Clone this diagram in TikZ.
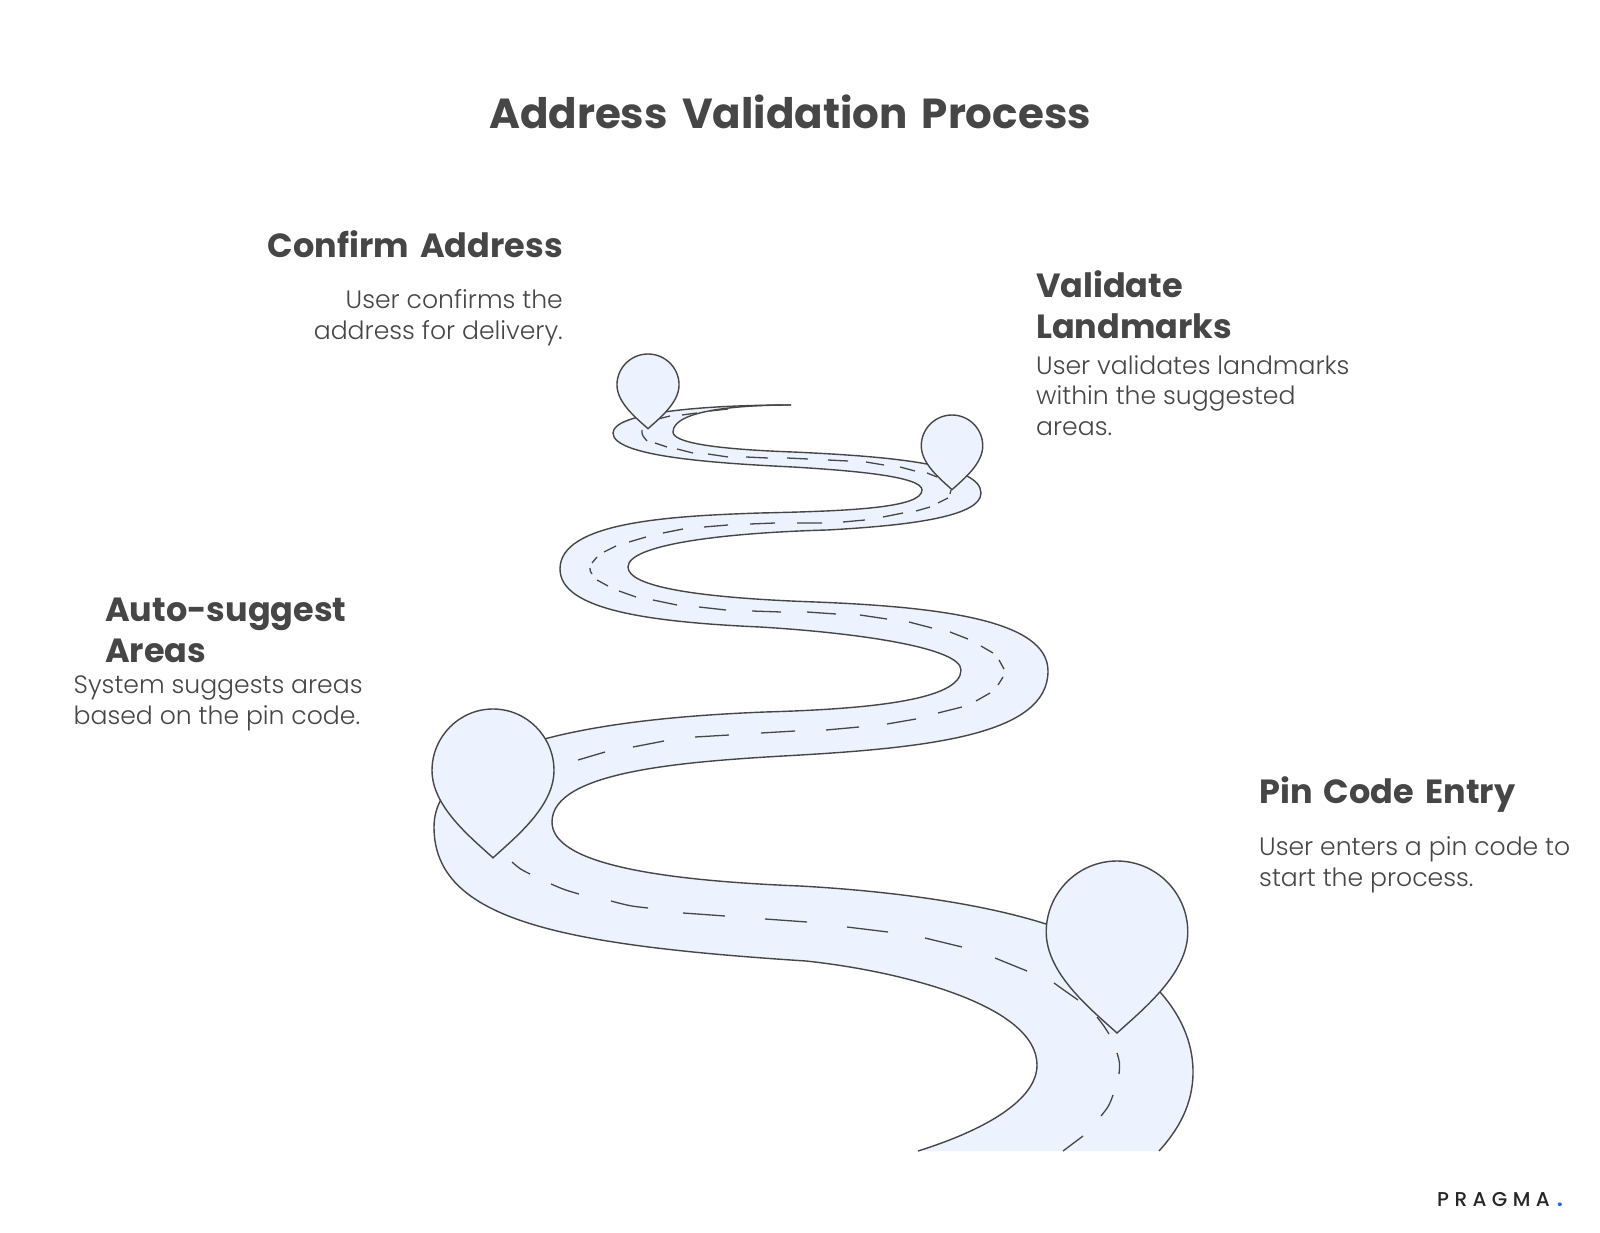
\documentclass[tikz,border=0pt]{standalone}
\usepackage{fontspec}
\setmainfont{Poppins}
\newfontfamily\hdfont[WordSpace=1.6]{Poppins}
\newfontfamily\ltfont{Poppins Light}
\newfontfamily\logofont[LetterSpace=27]{Poppins Medium}
\definecolor{ink}{HTML}{464646}
\definecolor{roadfill}{HTML}{ECF3FE}
\definecolor{logoblue}{HTML}{2563EB}
\newcommand{\edgeA}{(791,405)
 .. controls (700,405) and (613,413) .. (613,433)
 .. controls (613,456) and (710,463) .. (793,467)
 .. controls (860,471) and (922,477) .. (922,490)
 .. controls (922,508) and (850,511) .. (760,513)
 .. controls (670,516) and (560,522) .. (560,569)
 .. controls (560,610) and (650,622) .. (760,627)
 .. controls (860,633) and (961,648) .. (961,670)
 .. controls (961,700) and (870,709) .. (765,712)
 .. controls (640,717) and (434,735) .. (434,827)
 .. controls (434,920) and (560,945) .. (806,961)
 .. controls (900,971) and (1037,1005) .. (1037,1065)
 .. controls (1037,1100) and (985,1130) .. (918,1151)}
\newcommand{\edgeB}{(791,405)
 .. controls (740,405) and (673,410) .. (673,432)
 .. controls (673,442) and (710,449) .. (793,452)
 .. controls (880,456) and (981,463) .. (981,493)
 .. controls (981,518) and (900,526) .. (827,530)
 .. controls (720,533) and (628,545) .. (628,567)
 .. controls (628,587) and (700,598) .. (816,602)
 .. controls (940,607) and (1048,620) .. (1048,671)
 .. controls (1048,735) and (930,748) .. (783,756)
 .. controls (680,762) and (552,772) .. (552,822)
 .. controls (552,862) and (650,880) .. (800,886)
 .. controls (890,891) and (980,903) .. (1046,924)
 .. controls (1130,950) and (1193,1005) .. (1193,1072)
 .. controls (1193,1105) and (1178,1130) .. (1159,1151)}
\newcommand{\edgeBback}{(1159,1151)
 .. controls (1178,1130) and (1193,1105) .. (1193,1072)
 .. controls (1193,1005) and (1130,950) .. (1046,924)
 .. controls (980,903) and (890,891) .. (800,886)
 .. controls (650,880) and (552,862) .. (552,822)
 .. controls (552,772) and (680,762) .. (783,756)
 .. controls (930,748) and (1048,735) .. (1048,671)
 .. controls (1048,620) and (940,607) .. (816,602)
 .. controls (700,598) and (628,587) .. (628,567)
 .. controls (628,545) and (720,533) .. (827,530)
 .. controls (900,526) and (981,518) .. (981,493)
 .. controls (981,463) and (880,456) .. (793,452)
 .. controls (710,449) and (673,442) .. (673,432)
 .. controls (673,410) and (740,405) .. (791,405)}
\tikzset{
  road/.style={draw=ink,line width=1.4pt,line join=round},
  laneline/.style={draw=ink,line width=1.3pt},
  pinshape/.style={draw=ink,line width=1.4pt,fill=roadfill,line join=miter},
  titletext/.style={inner sep=0pt,text=ink,font=\hdfont\bfseries\fontsize{42}{48}\selectfont},
  headtext/.style={inner sep=0pt,text=ink,align=left,font=\hdfont\bfseries\fontsize{33.5}{40.8}\selectfont},
  headright/.style={inner sep=0pt,text=ink,align=right,font=\hdfont\bfseries\fontsize{33.5}{40.8}\selectfont},
  desctext/.style={inner sep=0pt,text=ink,align=left,font=\ltfont\fontsize{25.1}{30.4}\selectfont},
  descright/.style={inner sep=0pt,text=ink,align=right,font=\ltfont\fontsize{25.1}{30.4}\selectfont},
}
\newcommand{\droppin}[4]{%
  \begin{scope}[shift={(#1,#2)},x=#3pt,y=-#4pt]
    \draw[pinshape] (0,172) .. controls (-28,147) and (-71.5,112) .. (-71.5,71)
      .. controls (-71.5,32) and (-39.5,0) .. (0,0)
      .. controls (39.5,0) and (71.5,32) .. (71.5,71)
      .. controls (71.5,112) and (28,147) .. (0,172) -- cycle;
  \end{scope}}
\begin{document}
\begin{tikzpicture}[x=1pt,y=-1pt]
\useasboundingbox[fill=white] (0,0) rectangle (1600,1233);
% road
\fill[roadfill] \edgeA -- \edgeBback -- cycle;
\draw[road] \edgeA;
\draw[road] \edgeB;
% lane dashes
\draw[laneline]
 (728,409)--(710,411) (697,413)--(682,415) (670,416)--(658,419)
 (642,430) .. controls (642,435) .. (647,441)
 (655,443)--(667,447) (677,449)--(693,453) (708,454)--(728,457) (746,457)--(768,458) (787,458)--(808,459)
 (828,460)--(848,461) (866,462)--(884,465) (900,467)--(915,471) (927,473)--(937,477)
 (948,498)--(938,503) (930,507)--(916,511) (903,513)--(883,517) (865,520)--(843,522) (822,523)--(797,523)
 (775,523)--(750,524) (728,525)--(704,527) (683,529)--(663,533) (646,537)--(629,542) (616,546)--(604,552)
 (597,557)--(592,563) (590,568) .. controls (590,571) .. (592,574) (597,580)--(608,586) (619,591)--(636,597) (653,600)--(677,605)
 (699,607)--(726,610) (752,611)--(781,612) (807,612)--(836,614) (860,615)--(887,619) (909,622)--(932,628)
 (950,632)--(968,639) (981,646)--(993,653) (999,660)--(1004,669) (1003,677)--(998,685) (990,693)--(976,701)
 (962,707)--(938,713) (916,719)--(887,724) (859,727)--(826,730) (795,731)--(761,733) (729,735)--(695,737)
 (664,741)--(633,747) (605,752)--(578,760)
 (512,862) .. controls (520,869) .. (530,874) (551,884) .. controls (565,890) .. (579,894)
 (611,901) .. controls (630,906) .. (648,908) (683,913)--(725,916) (765,919)--(807,922) (847,927)--(888,932)
 (925,938)--(962,947) (995,958)--(1027,971)
 (1117,1053) .. controls (1120,1063) .. (1119,1074) (1113,1095) .. controls (1109,1106) .. (1101,1116)
 (1083,1136)--(1063,1151);
% pins
\droppin{1117}{861}{0.99}{1}
\droppin{493}{709}{0.853}{0.865}
\droppin{648}{354}{0.434}{0.434}
\droppin{952}{415}{0.43}{0.434}
% dashes over the pin edges
\draw[laneline] (1054,983) .. controls (1068,993) .. (1078,1000)
  (1097,1017) .. controls (1104,1026) .. (1109,1034) (951,490)--(950,494);
% text
\node[titletext,anchor=center] (title) at (790,111.5) {Address Validation Process};
\node[headright,anchor=base east] (confirmh) at (563,257.5) {Confirm Address};
\node[descright,anchor=base east] (confirmd) at (563,339) {User confirms the\\address for delivery.};
\node[headtext,anchor=base west] (validh) at (1036,338) {Validate\\Landmarks};
\node[desctext,anchor=base west] (validd) at (1036,435) {User validates landmarks\\within the suggested\\areas.};
\node[headtext,anchor=base west] (autoh) at (105,662) {Auto-suggest\\Areas};
\node[desctext,anchor=base west] (autod) at (73.5,724) {System suggests areas\\based on the pin code.};
\node[headtext,anchor=base west] (pinh) at (1259,803) {Pin Code Entry};
\node[desctext,anchor=base west] (pind) at (1259,886) {User enters a pin code to\\start the process.};
\node[inner sep=0pt,anchor=base west,text=black!85,font=\logofont\fontsize{20}{22}\selectfont] (logo) at (1437,1206) {PRAGMA};
\node[inner sep=0pt,anchor=base,text=logoblue,font=\hdfont\bfseries\fontsize{20}{22}\selectfont] (logodot) at (1560,1206) {.};
\end{tikzpicture}
\end{document}
